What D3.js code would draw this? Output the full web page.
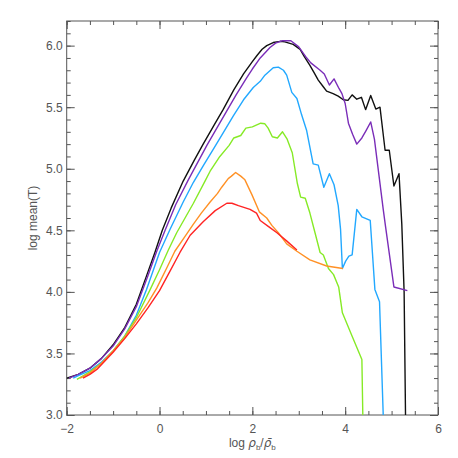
<!DOCTYPE html>
<html>
<head>
<meta charset="utf-8">
<script src="https://cdn.jsdelivr.net/npm/d3@7"></script>
<style>
  body { margin: 0; background: #fff; }
  svg text { font-family: "Liberation Sans", Arial, sans-serif; fill: #555; }
</style>
</head>
<body>
<svg id="chart" width="458" height="458"></svg>
<script>
// log rho_b / mean rho_b  vs  log mean(T), one curve per run
var black = [[-2.0,3.30],[-1.75,3.33],[-1.5,3.38],[-1.25,3.46],[-1.0,3.57],[-0.75,3.71],[-0.5,3.90],[-0.28,4.13],[-0.1,4.32],[0.06,4.50],[0.25,4.68],[0.51,4.90],[0.75,5.07],[0.94,5.20],[1.2,5.37],[1.37,5.48],[1.6,5.64],[1.81,5.77],[2.0,5.87],[2.1,5.92],[2.21,5.97],[2.31,6.0],[2.45,6.025],[2.6,6.035],[2.7,6.03],[2.88,6.01],[3.03,5.97],[3.12,5.91],[3.24,5.84],[3.33,5.78],[3.42,5.72],[3.52,5.67],[3.6,5.63],[3.74,5.61],[3.85,5.59],[3.96,5.56],[4.06,5.555],[4.15,5.60],[4.25,5.565],[4.35,5.58],[4.44,5.48],[4.55,5.595],[4.66,5.485],[4.75,5.50],[4.86,5.15],[4.95,5.15],[5.05,4.86],[5.16,4.96],[5.22,4.55],[5.27,4.0],[5.30,3.0]];
var purple = [[-1.95,3.30],[-1.75,3.33],[-1.5,3.38],[-1.25,3.46],[-1.0,3.56],[-0.75,3.70],[-0.5,3.88],[-0.25,4.13],[-0.06,4.33],[0.12,4.50],[0.35,4.71],[0.62,4.91],[0.82,5.05],[1.02,5.19],[1.25,5.34],[1.45,5.47],[1.65,5.60],[1.88,5.74],[2.0,5.81],[2.17,5.90],[2.38,5.985],[2.5,6.02],[2.65,6.04],[2.83,6.04],[3.0,5.99],[3.15,5.91],[3.26,5.86],[3.46,5.80],[3.55,5.77],[3.66,5.68],[3.76,5.73],[3.87,5.65],[3.93,5.61],[4.0,5.53],[4.07,5.37],[4.16,5.28],[4.25,5.20],[4.36,5.25],[4.45,5.31],[4.55,5.38],[4.63,5.24],[4.82,4.67],[4.87,4.53],[5.05,4.04],[5.34,4.01]];
var blue = [[-1.86,3.30],[-1.75,3.32],[-1.5,3.36],[-1.25,3.43],[-1.0,3.52],[-0.75,3.64],[-0.5,3.81],[-0.28,4.02],[0.0,4.32],[0.23,4.51],[0.51,4.73],[0.73,4.89],[0.95,5.03],[1.16,5.16],[1.4,5.31],[1.59,5.43],[1.81,5.56],[2.02,5.66],[2.17,5.71],[2.27,5.76],[2.45,5.82],[2.56,5.825],[2.67,5.80],[2.74,5.76],[2.85,5.62],[2.96,5.57],[3.06,5.44],[3.17,5.31],[3.31,5.04],[3.42,5.03],[3.54,4.85],[3.66,4.96],[3.76,4.87],[3.85,4.70],[3.90,4.51],[3.94,4.19],[4.01,4.25],[4.08,4.29],[4.15,4.30],[4.25,4.67],[4.36,4.61],[4.54,4.58],[4.64,4.02],[4.74,3.92],[4.82,3.0]];
var green = [[-1.78,3.29],[-1.5,3.35],[-1.25,3.42],[-1.0,3.52],[-0.75,3.64],[-0.5,3.79],[-0.2,4.02],[0.0,4.18],[0.19,4.34],[0.37,4.48],[0.55,4.60],[0.73,4.72],[0.98,4.90],[1.09,4.98],[1.3,5.10],[1.5,5.19],[1.6,5.25],[1.75,5.27],[1.86,5.33],[2.0,5.34],[2.18,5.37],[2.27,5.365],[2.34,5.33],[2.43,5.26],[2.54,5.25],[2.65,5.30],[2.75,5.24],[2.86,5.13],[2.97,4.88],[3.04,4.77],[3.14,4.76],[3.24,4.64],[3.35,4.48],[3.46,4.32],[3.53,4.30],[3.64,4.19],[3.75,4.14],[3.86,4.04],[3.94,3.83],[4.15,3.64],[4.36,3.45],[4.38,3.0]];
var orange = [[-1.71,3.30],[-1.5,3.34],[-1.25,3.42],[-1.0,3.52],[-0.75,3.63],[-0.5,3.77],[-0.25,3.91],[-0.06,4.03],[0.15,4.19],[0.33,4.33],[0.55,4.45],[0.73,4.55],[0.9,4.64],[1.09,4.73],[1.25,4.80],[1.34,4.85],[1.48,4.92],[1.55,4.94],[1.64,4.97],[1.75,4.94],[1.84,4.91],[1.99,4.79],[2.15,4.65],[2.31,4.60],[2.42,4.54],[2.56,4.48],[2.74,4.39],[2.96,4.33],[3.24,4.26],[3.60,4.21],[3.95,4.19]];
var red = [[-1.65,3.30],[-1.5,3.33],[-1.35,3.37],[-1.0,3.51],[-0.75,3.62],[-0.5,3.74],[-0.25,3.87],[0.0,4.01],[0.2,4.15],[0.44,4.32],[0.66,4.46],[0.94,4.57],[1.2,4.66],[1.45,4.72],[1.56,4.72],[1.7,4.70],[1.95,4.67],[2.09,4.64],[2.17,4.58],[2.35,4.53],[2.53,4.48],[2.75,4.41],[2.96,4.34]];

var seriesList = [black, purple, blue, green, orange, red];
var seriesColors = ["#111111", "#7a2db8", "#22a8ff", "#86ea26", "#ff9126", "#ff2424"];

var xMajor = [-2, 0, 2, 4, 6];
var yMajor = [3.0, 3.5, 4.0, 4.5, 5.0, 5.5, 6.0];

var plotL = 66.7, plotR = 438, plotT = 21, plotB = 415;

var x = d3.scaleLinear().domain([-2, 6]).range([plotL, plotR]);
var y = d3.scaleLinear().domain([3.0, 6.2]).range([plotB, plotT]);

var svg = d3.select("#chart");

var xMinor = d3.range(-2, 6.01, 0.5);
var yMinor = d3.range(3.0, 6.201, 0.1);

var axisColor = "#555";

function styleAxis(g) {
    g.select(".domain").remove();
    g.selectAll("line").attr("stroke", axisColor);
    g.selectAll("text").attr("fill", "#555").style("font-size", "12px")
        .style("font-family", "'Liberation Sans', Arial, sans-serif");
}

// minor ticks, all sides
svg.append("g").attr("transform", "translate(0," + plotB + ")")
    .call(d3.axisBottom(x).tickValues(xMinor).tickSize(-4).tickFormat(""))
    .call(styleAxis);
svg.append("g").attr("transform", "translate(0," + plotT + ")")
    .call(d3.axisTop(x).tickValues(xMinor).tickSize(-4).tickFormat(""))
    .call(styleAxis);
svg.append("g").attr("transform", "translate(" + plotL + ",0)")
    .call(d3.axisLeft(y).tickValues(yMinor).tickSize(-4).tickFormat(""))
    .call(styleAxis);
svg.append("g").attr("transform", "translate(" + plotR + ",0)")
    .call(d3.axisRight(y).tickValues(yMinor).tickSize(-4).tickFormat(""))
    .call(styleAxis);

// major ticks with labels
svg.append("g").attr("transform", "translate(0," + plotB + ")")
    .call(d3.axisBottom(x).tickValues(xMajor).tickSize(-8).tickPadding(9)
        .tickFormat(function(d) { return d < 0 ? "\u2212" + Math.abs(d) : d; }))
    .call(styleAxis);
svg.append("g").attr("transform", "translate(0," + plotT + ")")
    .call(d3.axisTop(x).tickValues(xMajor).tickSize(-8).tickFormat(""))
    .call(styleAxis);
svg.append("g").attr("transform", "translate(" + plotL + ",0)")
    .call(d3.axisLeft(y).tickValues(yMajor).tickSize(-8).tickPadding(4).tickFormat(d3.format(".1f")))
    .call(styleAxis);
svg.append("g").attr("transform", "translate(" + plotR + ",0)")
    .call(d3.axisRight(y).tickValues(yMajor).tickSize(-8).tickFormat(""))
    .call(styleAxis);

// frame
svg.append("rect")
    .attr("x", plotL).attr("y", plotT)
    .attr("width", plotR - plotL).attr("height", plotB - plotT)
    .attr("fill", "none").attr("stroke", axisColor).attr("stroke-width", 1);

// curves
svg.append("clipPath").attr("id", "plotclip")
    .append("rect").attr("x", plotL).attr("y", plotT)
    .attr("width", plotR - plotL).attr("height", plotB - plotT);

var line = d3.line()
    .x(function(d) { return x(d[0]); })
    .y(function(d) { return y(d[1]); });

svg.append("g").attr("clip-path", "url(#plotclip)")
    .selectAll("path")
    .data(seriesList)
    .enter()
    .append("path")
    .attr("d", line)
    .attr("fill", "none")
    .attr("stroke", function(d, i) { return seriesColors[i]; })
    .attr("stroke-width", 1.4)
    .attr("stroke-linejoin", "round");

// axis titles
var xt = svg.append("text")
    .attr("x", (plotL + plotR) / 2)
    .attr("y", 447)
    .attr("text-anchor", "middle")
    .style("font-size", "12px");
xt.append("tspan").text("log  ");
xt.append("tspan").style("font-family", "'DejaVu Sans', sans-serif").style("font-style", "italic").text("\u03c1");
xt.append("tspan").attr("dy", 3).style("font-size", "8px").text("b");
xt.append("tspan").attr("dy", -3).text("/");
xt.append("tspan").style("font-family", "'DejaVu Sans', sans-serif").style("font-style", "italic").text("\u03c1\u0304");
xt.append("tspan").attr("dy", 3).style("font-size", "8px").text("b");

svg.append("text")
    .attr("transform", "translate(37," + ((plotT + plotB) / 2) + ") rotate(-90)")
    .attr("text-anchor", "middle")
    .style("font-size", "12px")
    .text("log mean(T)");
</script>
</body>
</html>
